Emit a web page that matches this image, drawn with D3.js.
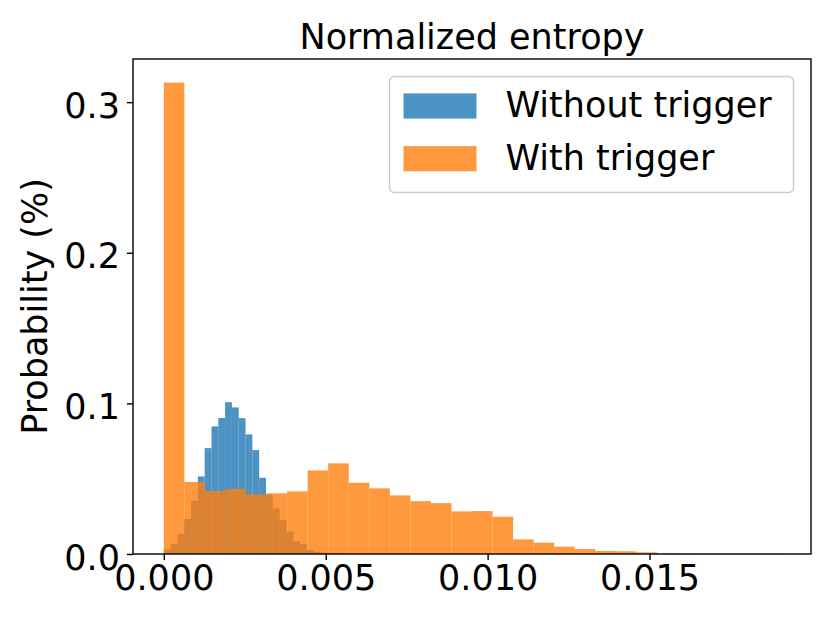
<!DOCTYPE html>
<html lang="en">
<head>
  <meta charset="UTF-8">
  <title>Normalized entropy</title>
  <script src="https://d3js.org/d3.v7.min.js"></script>
  <style>
    body {
      margin: 0;
      background: white;
    }
    svg text {
      font-family: 'DejaVu Sans', sans-serif;
      font-size: 35px;
      fill: black;
    }
  </style>
</head>
<body>
  <div id="chart"></div>

  <script>
    // histogram bin heights, 30 equal bins each
    const withoutTrigger = [0.0030, 0.0066, 0.0134, 0.0232, 0.0354, 0.0515, 0.0703, 0.0847, 0.0903, 0.1008,
                            0.0973, 0.0902, 0.0794, 0.0690, 0.0506, 0.0395, 0.0303, 0.0226, 0.0150, 0.0087,
                            0.0066, 0.0027, 0.0015, 0.0009, 0.0004, 0.0003, 0.0002, 0.0001, 0.0001, 0.0001];
    const withTrigger = [0.3130, 0.0478, 0.0418, 0.0433, 0.0396, 0.0403, 0.0416, 0.0555, 0.0602, 0.0473,
                         0.0436, 0.0389, 0.0351, 0.0338, 0.0283, 0.0285, 0.0248, 0.0097, 0.0075, 0.0049,
                         0.0033, 0.0020, 0.0018, 0.0011, 0.0005, 0.0003, 0.0002, 0.0002, 0.0001, 0.0001];
    // data range covered by each histogram
    const withoutRange = [0, 0.00631];
    const withRange = [0, 0.019035];
    const seriesNames = ["Without trigger", "With trigger"];
    const xTicks = [0, 0.005, 0.010, 0.015];
    const yTicks = [0.0, 0.1, 0.2, 0.3];

    const W = 830, H = 623;
    const margin = {left: 133, right: 19, top: 59, bottom: 69};
    const fs = 35;

    const svg = d3.select("#chart").append("svg").attr("width", W).attr("height", H);

    function toBins(values, range) {
      const step = (range[1] - range[0]) / values.length;
      return values.map((v, i) => ({x0: range[0] + i * step, x1: range[0] + (i + 1) * step, v: v}));
    }
    const binsWithout = toBins(withoutTrigger, withoutRange);
    const binsWith = toBins(withTrigger, withRange);

    // matplotlib style 5% margins on x, 5% headroom on y
    const xmin = Math.min(withoutRange[0], withRange[0]), xmax = Math.max(withoutRange[1], withRange[1]);
    const pad = (xmax - xmin) * 0.05;
    const x = d3.scaleLinear().domain([xmin - pad, xmax + pad]).range([margin.left, W - margin.right]);
    const ymax = d3.max(withoutTrigger.concat(withTrigger)) * 1.05;
    const y = d3.scaleLinear().domain([0, ymax]).range([H - margin.bottom, margin.top]);

    const drawBars = (bins, color) => svg.append("g")
      .selectAll("rect")
      .data(bins)
      .enter().append("rect")
      .attr("x", d => x(d.x0))
      .attr("width", d => x(d.x1) - x(d.x0))
      .attr("y", d => y(d.v))
      .attr("height", d => y(0) - y(d.v))
      .attr("fill", color)
      .attr("fill-opacity", 0.8);

    drawBars(binsWithout, "#1f77b4");
    drawBars(binsWith, "#ff7f0e");

    // axes
    const xAxis = svg.append("g")
      .attr("transform", `translate(0,${H - margin.bottom})`)
      .call(d3.axisBottom(x).tickValues(xTicks).tickFormat(d3.format(".3f")).tickSize(6.1).tickPadding(5));
    const yAxis = svg.append("g")
      .attr("transform", `translate(${margin.left},0)`)
      .call(d3.axisLeft(y).tickValues(yTicks).tickFormat(d3.format(".1f")).tickSize(6.1).tickPadding(7));
    [xAxis, yAxis].forEach(g => {
      g.select(".domain").remove();
      g.selectAll(".tick line").attr("stroke", "black").attr("stroke-width", 1.4);
      g.selectAll(".tick text").attr("font-size", fs).attr("font-family", "'DejaVu Sans', sans-serif");
    });
    xAxis.selectAll(".tick text").attr("dy", "0.71em");
    yAxis.selectAll(".tick text").attr("dy", "0.43em");

    // frame
    svg.append("rect")
      .attr("x", margin.left).attr("y", margin.top)
      .attr("width", W - margin.left - margin.right)
      .attr("height", H - margin.top - margin.bottom)
      .attr("fill", "none").attr("stroke", "black").attr("stroke-width", 1.4);

    // title and axis label
    svg.append("text")
      .attr("x", (margin.left + W - margin.right) / 2)
      .attr("y", margin.top - 10.4)
      .attr("text-anchor", "middle")
      .text("Normalized entropy");
    svg.append("text")
      .attr("transform", `translate(47,${(margin.top + H - margin.bottom) / 2}) rotate(-90)`)
      .attr("text-anchor", "middle")
      .text("Probability (%)");

    // legend, upper right
    const lgRight = W - margin.right - 0.5 * fs, lgTop = margin.top + 0.5 * fs;
    const lgW = 404, lgH = 116;
    const legend = svg.append("g").attr("transform", `translate(${lgRight - lgW},${lgTop})`);
    legend.append("rect")
      .attr("width", lgW).attr("height", lgH).attr("rx", 5)
      .attr("fill", "white").attr("fill-opacity", 0.8)
      .attr("stroke", "#cccccc").attr("stroke-width", 1.4);
    const colors = ["#1f77b4", "#ff7f0e"];
    seriesNames.forEach((name, i) => {
      const cy = 29.5 + i * 52.7;
      legend.append("rect")
        .attr("x", 14).attr("y", cy - 12.6)
        .attr("width", 73).attr("height", 25.2)
        .attr("fill", colors[i]).attr("fill-opacity", 0.8);
      legend.append("text")
        .attr("x", 116).attr("y", cy + 11)
        .text(name);
    });
  </script>
</body>
</html>
